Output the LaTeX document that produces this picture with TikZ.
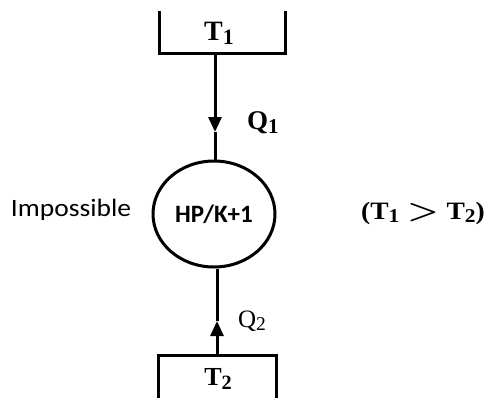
\documentclass[tikz,border=0pt]{standalone}
\usepackage{amsmath}
\usepackage{fontspec}
\setmainfont{Liberation Serif}
\setsansfont{Carlito}
\usepackage{tikz}
\usetikzlibrary{arrows.meta, positioning, calc, shapes.geometric}

\newcommand{\widen}[1]{\scalebox{1.1}[1]{#1}}
\newcommand{\tsub}[2]{#1\raisebox{-0.3ex}{\scalebox{0.78}{#2}}}

\begin{document}
\begin{tikzpicture}[
          x=1pt, y=-1pt,
          wall/.style={line width=3pt, line cap=rect},
          flow/.style={line width=3pt},
          temp/.style={font=\bfseries\fontsize{28}{30}\selectfont},
          every node/.style={inner sep=0pt},
          >={Triangle[length=15pt, width=13pt]}
        ]
        \useasboundingbox (0,0) rectangle (486,397);
        % engine
        \node [ellipse, draw, line width=3pt, minimum width=122pt, minimum height=106pt] (hp) at (214,214)
          {\sffamily\bfseries\fontsize{25}{30}\selectfont HP/K+1};
        \node (imp) at (71,210) {\widen{\sffamily\fontsize{25}{30}\selectfont Impossible}};
        \node [temp, font=\bfseries\fontsize{25}{28}\selectfont] (cond) at (423,213)
          {\widen{\tsub{(T}{1}\hspace{7pt}\scalebox{1.3}[1.1]{\boldmath$>$}\hspace{7pt}\tsub{T}{2})}};
        % hot reservoir
        \coordinate (hot) at (215,53);
        \draw [wall] (159,12) -- (159,53) -- (285,53) -- (285,12);
        \node [temp] (t1) at (219,33) {\tsub{T}{1}};
        % cold reservoir
        \coordinate (cold) at (217,355);
        \draw [wall] (158,400) -- (158,355) -- (276,355) -- (276,400);
        \node [temp, font=\bfseries\fontsize{26}{28}\selectfont] (t2) at (218,379) {\tsub{T}{2}};
        % heat flows
        \coordinate (m1) at (215,132);
        \coordinate (m2) at (217,321);
        \draw [flow, ->] (hot) -- (m1);
        \draw [flow] (m1) -- (hp.north -| m1);
        \draw [flow, ->] (cold) -- (m2);
        \draw [flow] (m2) -- (hp.south -| m2);
        \node [temp, font=\bfseries\fontsize{27}{30}\selectfont] (q1) at (263,123) {\tsub{Q}{1}};
        \node [font=\fontsize{25}{28}\selectfont] (q2) at (252,321) {\tsub{Q}{2}};
\end{tikzpicture}
\end{document}
